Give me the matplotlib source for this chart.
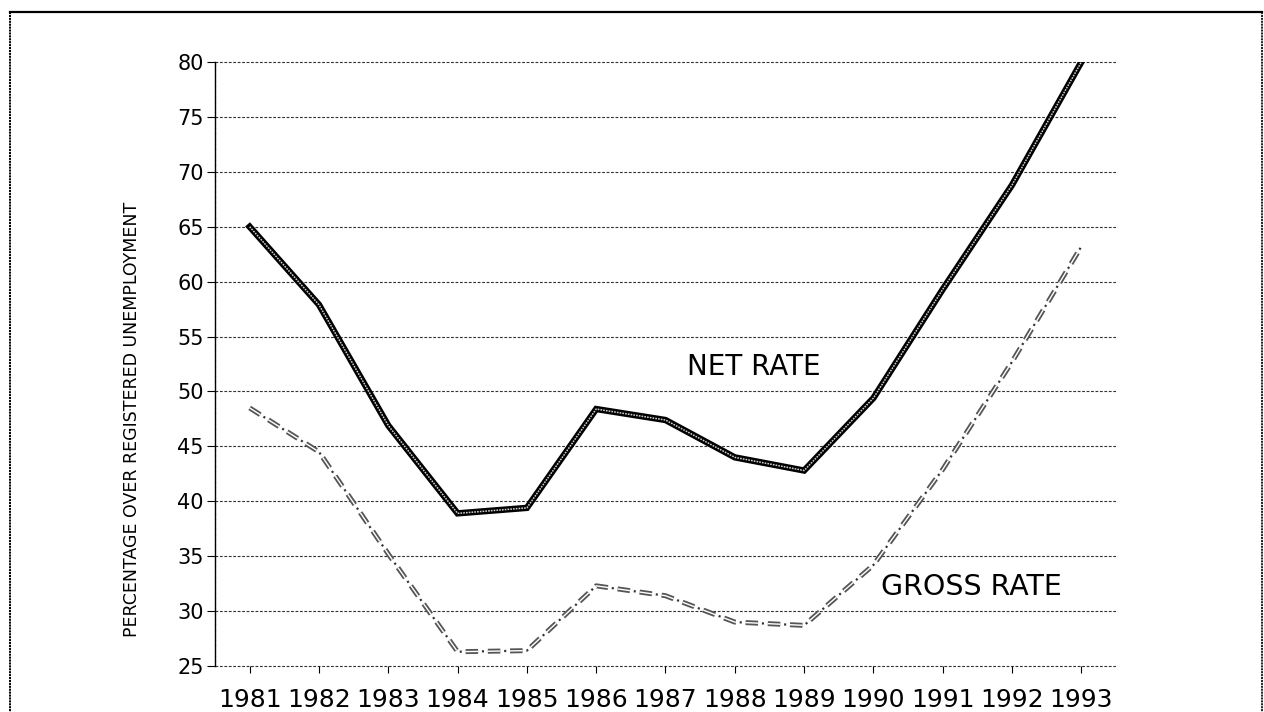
import matplotlib
matplotlib.use("Agg")
import matplotlib.pyplot as plt
from matplotlib.lines import Line2D

plt.rcParams['font.family'] = ['DejaVu Sans']
plt.rcParams['lines.scale_dashes'] = False

years = [1981, 1982, 1983, 1984, 1985, 1986, 1987, 1988, 1989, 1990, 1991, 1992, 1993]
net_rate = [65.0, 57.9, 46.9, 38.9, 39.4, 48.4, 47.4, 44.0, 42.8, 49.4, 59.3, 68.8, 80.0]
gross_rate = [48.5, 44.5, 35.2, 26.3, 26.4, 32.3, 31.4, 29.0, 28.7, 34.2, 42.9, 52.7, 63.2]
y_ticks = [25, 30, 35, 40, 45, 50, 55, 60, 65, 70, 75, 80]
y_label = "PERCENTAGE OVER REGISTERED UNEMPLOYMENT"
net_label = "NET RATE"
gross_label = "GROSS RATE"

fig = plt.figure(figsize=(12.64, 7.12), dpi=100)
fig.patch.set_facecolor('white')

# outer frame (scanned page border)
fig.add_artist(Line2D([0.0079, 0.9984], [0.983, 0.983], transform=fig.transFigure,
                      color='black', lw=1.6))
fig.add_artist(Line2D([0.0079, 0.0079], [0.983, 0.0], transform=fig.transFigure,
                      color='black', lw=1.4, linestyle=(0, (1.5, 0.6))))
fig.add_artist(Line2D([0.9985, 0.9985], [0.983, 0.0], transform=fig.transFigure,
                      color='black', lw=1.2, linestyle=(0, (1.5, 0.6))))

ax = fig.add_axes([0.1701, 0.0646, 0.7128, 0.8483])
ax.set_xlim(1980.5, 1993.5)
ax.set_ylim(25, 80)

# grid
for yv in y_ticks:
    ax.axhline(yv, color='#333333', lw=0.8, linestyle=(0, (2.0, 1.2)), zorder=1,
               clip_on=False)

for s in ['top', 'right', 'bottom']:
    ax.spines[s].set_visible(False)
ax.spines['left'].set_color('black')
ax.spines['left'].set_linewidth(1.0)
ax.spines['left'].set_linestyle((0, (3, 0.8)))

ax.set_yticks(y_ticks)
ax.set_yticklabels([str(v) for v in y_ticks], fontsize=15)
ax.set_xticks(years)
ax.set_xticklabels([str(y) for y in years], fontsize=18)
ax.tick_params(axis='y', direction='out', length=6, width=0.8, pad=2, colors='black')
ax.tick_params(axis='x', direction='out', length=5, width=0.8, pad=11, colors='black')

# net rate: double line
ax.plot(years, net_rate, color='black', lw=4.6, solid_joinstyle='miter', zorder=3)
ax.plot(years, net_rate, color='#cfcfcf', lw=1.1, linestyle=(0, (1.2, 0.8)),
        solid_joinstyle='miter', zorder=4)

# gross rate: hatched dashes with small ticks
ax.plot(years, gross_rate, color='#555555', lw=3.6, linestyle=(0, (9, 7)), zorder=3)
ax.plot(years, gross_rate, color='white', lw=1.0, linestyle=(0, (9, 7)), zorder=4)
ax.plot(years, gross_rate, color='#333333', lw=1.6, linestyle=(4.25, (1.5, 14.5)), zorder=3)

ax.text(1988.27, 52.2, net_label, fontsize=20, ha='center', va='center', color='black')
ax.text(1991.41, 32.2, gross_label, fontsize=20.5, ha='center', va='center', color='black')

fig.text(0.1044, 0.4115, y_label, rotation=90, fontsize=12.5, ha='center', va='center')

fig.savefig("out.png", dpi=100, facecolor='white')
